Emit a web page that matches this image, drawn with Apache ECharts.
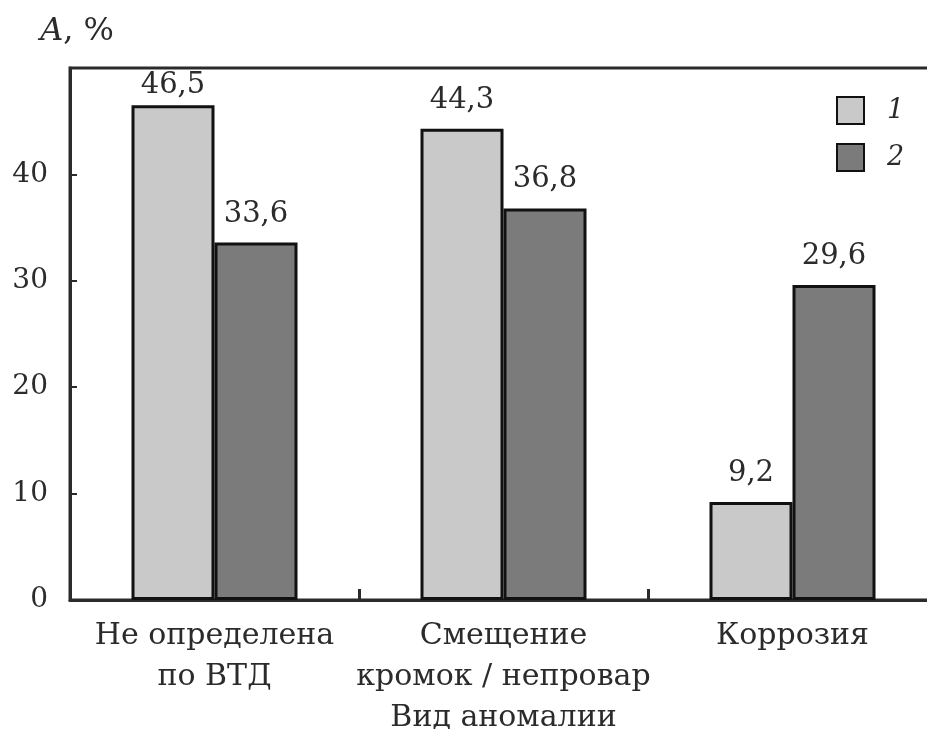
<!DOCTYPE html>
<html>
<head>
<meta charset="utf-8">
<script src="https://cdn.jsdelivr.net/npm/echarts@6/dist/echarts.min.js"></script>
<style>
  html, body { margin: 0; padding: 0; background: #fff; }
  #chart { width: 927px; height: 729px; }
</style>
</head>
<body>
<div id="chart"></div>
<script>
// Anomaly types (x categories)
const categories = ['Не определена\nпо ВТД', 'Смещение\nкромок / непровар', 'Коррозия'];
// Share A, % for the two groups
const series1 = [46.5, 44.3, 9.2];
const series2 = [33.6, 36.8, 29.6];
const seriesNames = ['1', '2'];
const yTicks = [0, 10, 20, 30, 40, 50];

const FONT = '"DejaVu Serif", "Liberation Serif", serif';
const INK = '#2b2b2b';

const fmt = v => String(v).replace('.', ',');

function barData(values, tightFirst) {
  return values.map((v, i) => {
    const item = { value: v };
    if (tightFirst && i === 0) item.label = { distance: 5 };
    return item;
  });
}

const labelStyle = {
  show: true,
  position: 'top',
  distance: 14,
  fontFamily: FONT,
  fontSize: 29,
  color: INK,
  formatter: p => fmt(p.value)
};

const chart = echarts.init(document.getElementById('chart'), null, { renderer: 'canvas' });
chart.setOption({
  backgroundColor: '#fff',
  animation: false,
  grid: {
    left: 70, width: 867, top: 68, bottom: 129,
    containLabel: false,
    outerBoundsMode: 'none',
    show: true, borderColor: INK, borderWidth: 3, backgroundColor: 'transparent'
  },
  legend: {
    left: 836, top: 96, orient: 'vertical', padding: 0,
    icon: 'rect',
    itemWidth: 27, itemHeight: 27, itemGap: 18,
    data: seriesNames,
    textStyle: { fontFamily: FONT, fontSize: 27, fontStyle: 'italic', color: INK, padding: [0, 0, 0, 18] }
  },
  xAxis: {
    type: 'category',
    data: categories,
    name: 'Вид аномалии',
    nameLocation: 'middle',
    nameGap: 100,
    nameTextStyle: { fontFamily: FONT, fontSize: 30, color: INK },
    axisLine: { lineStyle: { color: INK, width: 3 } },
    axisTick: { show: true, inside: true, interval: 0, length: 11, lineStyle: { color: INK, width: 3 } },
    axisLabel: { interval: 0, fontFamily: FONT, fontSize: 30, color: INK, lineHeight: 41, margin: 16 }
  },
  yAxis: {
    type: 'value',
    min: yTicks[0], max: yTicks[yTicks.length - 1], interval: 10,
    name: '{i|A}, %',
    nameLocation: 'end',
    nameGap: 0,
    nameTextStyle: {
      fontFamily: FONT, fontSize: 32, color: INK, align: 'right', verticalAlign: 'bottom',
      padding: [0, -44, 20, 0],
      rich: { i: { fontFamily: FONT, fontSize: 32, fontStyle: 'italic', color: INK } }
    },
    splitLine: { show: false },
    axisLine: { show: true, lineStyle: { color: INK, width: 3 } },
    axisTick: { show: true, inside: true, length: 7, lineStyle: { color: INK, width: 2 } },
    axisLabel: {
      fontFamily: FONT, fontSize: 28, color: INK, margin: 22,
      showMaxLabel: false
    }
  },
  series: [
    {
      name: seriesNames[0], type: 'bar', data: barData(series1, true),
      barWidth: 83, barGap: '0%',
      itemStyle: { color: '#c9c9c9', borderColor: '#111', borderWidth: 3 },
      label: labelStyle
    },
    {
      name: seriesNames[1], type: 'bar', data: barData(series2, false),
      barWidth: 83, barGap: '0%',
      itemStyle: { color: '#7b7b7b', borderColor: '#111', borderWidth: 3 },
      label: labelStyle
    }
  ]
});
</script>
</body>
</html>
